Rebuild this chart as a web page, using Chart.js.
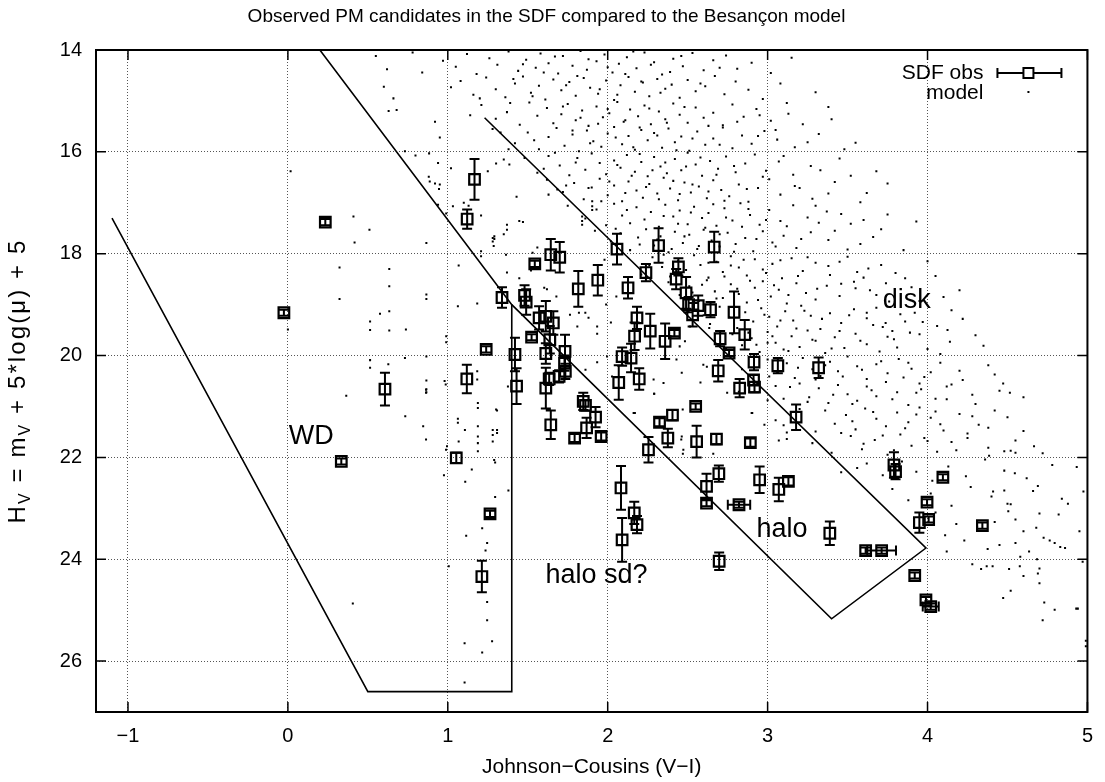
<!DOCTYPE html>
<html>
<head>
<meta charset="utf-8">
<script src="https://cdn.jsdelivr.net/npm/chart.js@4.4.1/dist/chart.umd.min.js"></script>
<style>
html, body { margin: 0; padding: 0; background: #fff; }
</style>
</head>
<body>
<canvas id="cmd" width="1105" height="782"></canvas>
<script>
const xTicks = [-1, 0, 1, 2, 3, 4, 5];
const yTicks = [14, 16, 18, 20, 22, 24, 26];

// SDF proper motion candidates: V-I, H_V and vertical error
const obsX = [-0.025,0.234,0.334,0.607,1.053,1.119,1.121,1.167,1.213,1.24,1.264,1.339,1.42,1.43,1.48,1.49,1.524,1.544,1.571,1.613,
  1.644,1.66,1.638,1.613,1.70,1.733,1.73,1.735,1.696,1.634,1.613,1.644,1.816,1.847,1.861,1.924,1.868,1.793,1.938,1.959,
  2.058,2.09,2.146,2.069,2.197,2.168,2.183,2.127,2.083,2.166,2.183,2.09,2.239,2.266,2.255,2.318,2.324,2.359,2.376,2.405,
  2.417,2.428,2.442,2.49,2.506,2.531,2.55,2.556,2.566,2.618,2.618,2.643,2.666,2.68,2.691,2.695,2.697,2.703,2.759,2.79,
  2.821,2.825,2.857,2.892,2.912,2.918,2.915,2.95,3.064,3.07,3.13,3.178,3.319,3.389,3.613,3.713,3.79,3.80,3.92,3.949,
  3.997,4.007,3.99,4.02,4.096,4.343];
const obsY = [19.16,17.38,22.08,20.66,22.01,20.46,17.32,16.54,24.34,19.88,23.11,18.86,19.98,20.60,18.82,18.95,19.64,18.20,19.26,19.23,
  18.02,19.36,19.69,19.96,18.07,19.92,20.15,20.31,20.41,20.46,20.64,21.36,18.69,20.90,20.98,21.21,21.42,21.62,18.52,21.59,
  17.91,20.02,20.05,20.53,20.46,19.62,19.26,18.67,22.60,23.09,23.32,23.62,18.37,19.52,21.85,17.84,21.31,19.72,21.62,21.17,
  19.56,18.50,18.26,18.77,19.00,19.20,21.00,21.69,19.02,22.57,22.90,19.10,17.87,21.64,20.30,22.32,24.04,19.67,19.95,19.15,
  22.93,20.64,19.59,21.71,20.48,20.62,20.13,22.44,20.20,22.63,22.47,21.21,20.24,23.49,23.83,23.83,22.15,22.28,24.32,23.28,
  22.88,23.22,24.80,24.93,22.39,23.34];
const obsYErr = [0.06,0.06,0.06,0.32,0.10,0.28,0.19,0.40,0.31,0.06,0.06,0.20,0.33,0.35,0.20,0.25,0.06,0.06,0.23,0.30,
  0.31,0.23,0.27,0.20,0.30,0.33,0.15,0.15,0.12,0.12,0.40,0.28,0.35,0.17,0.10,0.20,0.20,0.08,0.30,0.08,
  0.30,0.18,0.28,0.34,0.21,0.27,0.22,0.21,0.43,0.22,0.17,0.43,0.17,0.34,0.25,0.34,0.08,0.35,0.18,0.10,
  0.06,0.20,0.17,0.31,0.15,0.23,0.06,0.31,0.20,0.25,0.06,0.15,0.30,0.10,0.21,0.16,0.17,0.15,0.06,0.41,
  0.06,0.18,0.29,0.08,0.10,0.10,0.16,0.26,0.15,0.23,0.08,0.25,0.20,0.23,0.06,0.06,0.25,0.15,0.06,0.20,
  0.06,0.06,0.06,0.06,0.06,0.06];
// the few candidates that also carry a colour error bar
const hErrX = [2.821, 3.713, 4.02];
const hErrY = [22.93, 23.83, 24.93];
const hErr = [0.07, 0.09, 0.05];

// Besancon model stars, disk sequence
const modelDisk = [
  [0.55,14.12],[0.62,14.38],[0.78,14.05],[0.84,14.44],[0.97,14.21],[1.05,14.33],[1.12,14.08],[1.18,14.47],[1.26,14.16],[1.31,14.29],
  [1.38,14.03],[1.44,14.41],[1.49,14.19],[1.55,14.35],[1.58,14.07],[1.63,14.26],[1.69,14.46],[1.72,14.12],[1.78,14.31],[1.83,14.02],
  [1.87,14.39],[1.93,14.22],[1.98,14.09],[2.03,14.44],[2.07,14.27],[2.12,14.14],[2.18,14.36],[2.23,14.05],[2.29,14.24],[2.34,14.48],
  [2.41,14.17],[2.47,14.32],[2.53,14.06],[2.6,14.4],[2.66,14.2],[2.74,14.11],[2.81,14.37],[2.9,14.25],[3.02,14.45],[3.15,14.15],
  [0.6,14.72],[0.66,14.95],[1.08,14.61],[1.16,14.88],[1.24,14.54],[1.3,14.77],[1.36,14.93],[1.42,14.66],[1.47,14.52],[1.52,14.84],
  [1.57,14.7],[1.61,14.97],[1.66,14.58],[1.71,14.79],[1.76,14.63],[1.8,14.9],[1.85,14.55],[1.89,14.74],[1.94,14.86],[1.99,14.6],
  [2.04,14.98],[2.08,14.69],[2.13,14.53],[2.17,14.82],[2.22,14.64],[2.26,14.91],[2.31,14.57],[2.36,14.76],[2.4,14.68],[2.45,14.94],
  [2.5,14.59],[2.55,14.81],[2.61,14.71],[2.67,14.51],[2.73,14.87],[2.8,14.62],[2.88,14.78],[2.97,14.96],[3.08,14.66],[3.3,14.83],
  [0.63,15.2],[0.68,15.18],[0.92,15.41],[1.21,15.08],[1.3,15.35],[1.37,15.22],[1.45,15.47],[1.51,15.03],[1.56,15.29],[1.62,15.14],
  [1.66,15.44],[1.71,15.26],[1.75,15.06],[1.8,15.38],[1.84,15.19],[1.88,15.49],[1.93,15.11],[1.97,15.32],[2.01,15.24],[2.06,15.02],
  [2.1,15.41],[2.14,15.17],[2.19,15.3],[2.23,15.09],[2.27,15.46],[2.32,15.21],[2.36,15.36],[2.41,15.05],[2.45,15.27],[2.5,15.43],
  [2.55,15.13],[2.6,15.33],[2.66,15.23],[2.72,15.48],[2.78,15.07],[2.85,15.31],[2.93,15.16],[3.02,15.39],[3.13,15.25],[3.38,15.12],
  [0.95,15.72],[1.28,15.55],[1.42,15.83],[1.5,15.62],[1.57,15.95],[1.63,15.71],[1.68,15.53],[1.73,15.88],[1.78,15.66],[1.82,15.99],
  [1.87,15.58],[1.91,15.79],[1.96,15.9],[2.0,15.64],[2.04,15.51],[2.09,15.85],[2.13,15.69],[2.17,15.96],[2.21,15.57],[2.25,15.77],
  [2.29,15.63],[2.34,15.92],[2.38,15.54],[2.42,15.81],[2.46,15.7],[2.51,15.98],[2.56,15.6],[2.61,15.86],[2.66,15.74],[2.72,15.52],
  [2.78,15.93],[2.84,15.68],[2.9,15.84],[2.98,15.59],[3.06,15.76],[3.17,15.91],[3.32,15.65],[3.55,15.82],
  [1.02,16.32],[1.35,16.15],[1.56,16.41],[1.63,16.08],[1.7,16.27],[1.76,16.46],[1.81,16.12],[1.86,16.35],[1.9,16.03],[1.95,16.22],
  [1.99,16.44],[2.04,16.17],[2.08,16.31],[2.12,16.06],[2.17,16.39],[2.21,16.2],[2.25,16.48],[2.29,16.1],[2.33,16.29],[2.37,16.42],
  [2.42,16.14],[2.46,16.36],[2.5,16.02],[2.55,16.25],[2.59,16.47],[2.64,16.18],[2.69,16.33],[2.74,16.09],[2.8,16.4],[2.86,16.23],
  [2.92,16.05],[2.99,16.37],[3.07,16.19],[3.16,16.45],[3.27,16.28],[3.45,16.13],[3.68,16.38],
  [0.92,16.62],[1.43,16.88],[1.62,16.55],[1.72,16.79],[1.79,16.61],[1.85,16.93],[1.9,16.7],[1.95,16.53],[2.0,16.85],[2.04,16.66],
  [2.09,16.97],[2.13,16.58],[2.18,16.76],[2.22,16.9],[2.26,16.63],[2.31,16.82],[2.35,16.51],[2.39,16.72],[2.44,16.95],[2.48,16.6],
  [2.52,16.8],[2.57,16.68],[2.62,16.91],[2.66,16.56],[2.71,16.75],[2.76,16.87],[2.82,16.64],[2.88,16.98],[2.94,16.71],[3.01,16.54],
  [3.08,16.84],[3.17,16.67],[3.28,16.92],[3.42,16.59],[3.62,16.81],
  [0.99,17.21],[1.47,17.38],[1.75,17.06],[1.86,17.31],[1.93,17.13],[1.99,17.44],[2.04,17.02],[2.09,17.25],[2.14,17.4],[2.18,17.09],
  [2.23,17.33],[2.27,17.18],[2.32,17.47],[2.36,17.04],[2.41,17.27],[2.45,17.15],[2.5,17.42],[2.54,17.08],[2.59,17.3],[2.63,17.2],
  [2.68,17.45],[2.73,17.11],[2.78,17.35],[2.83,17.01],[2.89,17.24],[2.95,17.43],[3.01,17.14],[3.08,17.36],[3.16,17.05],[3.25,17.29],
  [3.37,17.17],[3.52,17.41],[3.75,17.23],
  [1.35,17.62],[1.56,17.88],[1.92,17.55],[2.02,17.76],[2.08,17.6],[2.14,17.93],[2.19,17.68],[2.24,17.52],[2.29,17.84],[2.33,17.66],
  [2.38,17.97],[2.42,17.57],[2.47,17.79],[2.51,17.63],[2.56,17.91],[2.6,17.53],[2.65,17.74],[2.7,17.86],[2.75,17.59],[2.8,17.81],
  [2.86,17.69],[2.91,17.95],[2.97,17.56],[3.03,17.78],[3.1,17.65],[3.18,17.89],[3.27,17.58],[3.38,17.73],[3.5,17.92],[3.66,17.67],
  [1.52,18.33],[1.98,18.12],[2.21,18.41],[2.28,18.07],[2.34,18.26],[2.39,18.45],[2.44,18.14],[2.49,18.32],[2.54,18.03],[2.58,18.22],
  [2.63,18.47],[2.68,18.16],[2.72,18.36],[2.77,18.05],[2.82,18.27],[2.87,18.43],[2.92,18.11],[2.97,18.31],[3.03,18.2],[3.09,18.48],
  [3.15,18.09],[3.22,18.34],[3.3,18.18],[3.39,18.42],[3.5,18.06],[3.63,18.29],[3.8,18.38],[4.0,18.15],
  [1.62,18.7],[2.38,18.56],[2.45,18.81],[2.51,18.64],[2.57,18.93],[2.62,18.52],[2.67,18.74],[2.72,18.87],[2.77,18.6],[2.82,18.79],
  [2.87,18.96],[2.92,18.67],[2.97,18.54],[3.02,18.84],[3.07,18.71],[3.12,18.98],[3.18,18.58],[3.24,18.77],[3.3,18.9],[3.37,18.63],
  [3.45,18.83],[3.54,18.55],[3.64,18.72],[3.76,18.94],[3.9,18.66],[4.1,18.85],
  [2.02,19.35],[2.57,19.12],[2.64,19.38],[2.7,19.04],[2.76,19.25],[2.81,19.46],[2.86,19.15],[2.91,19.33],[2.96,19.07],[3.01,19.24],
  [3.06,19.43],[3.11,19.13],[3.16,19.31],[3.21,19.02],[3.27,19.22],[3.33,19.48],[3.39,19.17],[3.46,19.36],[3.54,19.09],[3.62,19.27],
  [3.72,19.44],[3.83,19.19],[3.97,19.34],[4.15,19.11],
  [2.45,19.82],[2.78,19.58],[2.84,19.8],[2.9,19.66],[2.95,19.93],[3.0,19.54],[3.05,19.75],[3.1,19.88],[3.15,19.62],[3.2,19.83],
  [3.25,19.51],[3.3,19.71],[3.36,19.95],[3.42,19.64],[3.48,19.85],[3.55,19.57],[3.62,19.78],[3.7,19.92],[3.79,19.68],[3.89,19.55],
  [4.0,19.87],[4.14,19.73],[4.3,19.6],
  [2.62,20.22],[3.0,20.08],[3.06,20.33],[3.12,20.15],[3.17,20.44],[3.22,20.05],[3.28,20.27],[3.33,20.4],[3.39,20.12],[3.44,20.31],
  [3.5,20.02],[3.56,20.21],[3.62,20.46],[3.68,20.17],[3.75,20.35],[3.82,20.07],[3.9,20.26],[3.98,20.42],[4.08,20.14],[4.2,20.3],[4.38,20.19],
  [2.82,20.71],[3.2,20.55],[3.26,20.82],[3.32,20.64],[3.38,20.93],[3.44,20.58],[3.5,20.76],[3.56,20.89],[3.62,20.61],[3.68,20.8],
  [3.74,20.52],[3.81,20.72],[3.88,20.97],[3.96,20.66],[4.05,20.85],[4.15,20.57],[4.28,20.77],[4.45,20.69],
  [3.05,21.27],[3.36,21.08],[3.42,21.34],[3.49,21.17],[3.55,21.45],[3.61,21.04],[3.68,21.24],[3.74,21.39],[3.81,21.12],[3.88,21.31],
  [3.95,21.02],[4.02,21.22],[4.1,21.47],[4.2,21.15],[4.32,21.36],[4.5,21.21],
  [3.28,21.72],[3.52,21.58],[3.59,21.84],[3.67,21.66],[3.75,21.95],[3.83,21.55],[3.9,21.77],[3.98,21.62],[4.06,21.89],[4.15,21.7],
  [4.25,21.53],[4.38,21.81],[4.55,21.67],
  [3.62,22.12],[3.72,22.35],[3.84,22.08],[3.93,22.28],[4.03,22.46],[4.13,22.18],[4.24,22.37],[4.36,22.04],[4.48,22.26],[4.62,22.41],[4.78,22.15],
  [3.78,22.62],[3.88,22.84],[4.02,22.71],[4.15,22.95],[4.27,22.58],[4.4,22.77],[4.52,22.92],[4.66,22.66],[4.84,22.81],
  [4.05,23.08],[4.18,23.31],[4.31,23.36],[4.42,23.27],[4.55,23.22],[4.68,23.38],[4.82,23.12],[4.95,23.45],
  [4.12,23.85],[4.28,24.1],[4.45,23.72],[4.58,23.95],[4.7,24.18],[4.86,23.78],[4.6,24.33],[4.97,24.05],
  [4.52,24.62],[4.73,24.85],[4.93,24.97],[4.99,25.6],[4.72,25.2]
];

// Besancon model stars, densest part of the disk sequence
const modelCore = [
  [1.41,14.57],[1.47,14.28],[1.53,14.91],[1.6,14.44],[1.67,14.13],[1.74,14.69],[1.81,14.51],[1.88,14.18],[1.95,14.77],[2.0,14.34],
  [2.06,14.88],[2.11,14.47],[2.16,14.03],[2.21,14.62],[2.27,14.29],[2.33,14.84],[2.39,14.43],[2.46,14.12],[2.58,14.66],[2.7,14.35],
  [1.72,15.11],[1.78,15.58],[1.83,15.33],[1.89,15.83],[1.94,15.45],[2.0,15.16],[2.05,15.72],[2.11,15.38],[2.16,15.91],[2.2,15.52],
  [2.26,15.15],[2.31,15.68],[2.37,15.43],[2.43,15.97],[2.48,15.12],[2.53,15.74],[2.63,15.49],[2.7,15.86],[2.81,15.41],[2.94,15.69],
  [2.01,16.58],[2.06,16.26],[2.11,16.81],[2.15,16.47],[2.2,16.04],[2.24,16.69],[2.28,16.36],[2.32,16.93],[2.36,16.21],[2.41,16.57],
  [2.45,16.83],[2.49,16.29],[2.53,16.64],[2.58,16.11],[2.63,16.78],[2.68,16.45],[2.73,16.96],[2.79,16.28],[2.87,16.73],[2.97,16.49],
  [2.31,17.72],[2.35,17.26],[2.4,17.91],[2.44,17.41],[2.48,17.66],[2.52,17.19],[2.57,17.85],[2.61,17.49],[2.66,17.03],[2.7,17.62],
  [2.74,17.29],[2.79,17.96],[2.84,17.47],[2.88,17.12],[2.93,17.71],[2.99,17.34],[3.05,17.86],[3.12,17.46],[3.21,17.71],[3.32,17.39],
  [2.59,18.61],[2.63,18.18],[2.68,18.88],[2.73,18.45],[2.77,18.23],[2.81,18.69],[2.85,18.12],[2.89,18.53],[2.94,18.91],[2.99,18.38],
  [3.04,18.62],[3.08,18.13],[3.13,18.81],[3.19,18.44],[3.25,18.07],[3.31,18.69],[3.38,18.24],[3.46,18.59],[3.56,18.36],[3.68,18.81],
  [2.88,19.55],[2.93,19.79],[2.98,19.2],[3.03,19.62],[3.08,19.31],[3.13,19.91],[3.18,19.47],[3.23,19.12],[3.28,19.69],[3.34,19.28],
  [3.4,19.86],[3.45,19.52],[3.51,19.21],[3.58,19.71],[3.66,19.4],[3.75,19.63],[3.86,19.33],[3.95,19.58],
  [3.14,20.62],[3.19,20.24],[3.25,20.91],[3.3,20.47],[3.36,20.19],[3.41,20.77],[3.47,20.41],[3.53,20.95],[3.59,20.28],[3.65,20.68],
  [3.71,20.11],[3.78,20.86],[3.85,20.43],[3.93,20.73],[4.02,20.33],[4.12,20.61],
  [3.46,21.52],[3.53,21.29],[3.6,21.73],[3.66,21.11],[3.72,21.57],[3.79,21.86],[3.86,21.43],[3.93,21.16],[4.0,21.68],[4.08,21.35],
  [4.18,21.86],[4.28,21.19],
  [2.95,15.28],[3.05,15.57],[3.12,15.04],[3.22,15.46],[3.25,15.81],[3.4,15.36],[3.48,15.95],
  [3.1,16.08],[3.2,16.71],[3.33,16.36],[3.38,16.82],[3.52,16.47],[3.58,16.99],[3.75,16.62],
  [3.3,17.06],[3.42,17.55],[3.46,17.22],[3.58,17.81],[3.6,17.34],[3.71,17.52],[3.85,17.93],[3.93,17.37],
  [3.45,18.16],[3.55,18.68],[3.6,18.47],[3.71,18.22],[3.74,18.58],[3.86,18.48],[3.95,18.93],[4.05,18.44],[4.2,18.72],
  [3.68,19.06],[3.78,19.52],[3.81,19.84],[3.92,19.16],[4.06,19.42],[4.08,19.97],[4.22,19.28],[4.35,19.81],
  [3.88,20.14],[3.95,20.55],[4.12,20.86],[4.22,20.48],[4.3,20.95],[4.42,20.37],[4.6,20.82],
  [4.05,21.1],[4.25,21.62],[4.38,21.42],[4.42,21.08],[4.6,21.48],[4.72,21.92],
  [1.02,14.73],[1.14,15.28],[1.2,14.95],[1.33,15.62],[1.39,15.04],[1.48,16.12],[1.54,15.77],[1.6,16.33],[1.67,16.02],[1.74,16.66],
  [1.8,16.21],[1.88,16.71],[1.96,16.97],[2.05,17.51],[2.12,17.14],[2.2,17.82],[2.26,18.23],[2.35,18.02],[2.42,18.39],[2.53,18.76],
  [2.6,19.21],[2.68,19.52],[2.74,19.86],[2.84,20.27],[2.93,20.53],[3.0,20.88],[3.1,21.37],[3.2,21.05],[3.3,21.49],[3.4,21.91]
];

// Besancon model stars, sparse halo and white dwarf population
const modelHalo = [
  [0.365,20.79],[0.734,21.19],[0.864,20.67],[0.864,20.73],[0.846,21.39],[0.864,21.65],[0.987,20.57],[1.063,21.24],[1.063,21.32],[1.107,21.46],
  [1.068,21.69],[1.188,20.93],[1.188,21.03],[1.188,21.39],[1.188,21.59],[1.188,21.72],[1.188,21.88],[1.308,21.08],[1.308,21.46],[1.308,21.52],
  [1.281,21.69],[1.296,22.1],[1.15,22.24],[0.976,22.35],[1.109,22.48],[1.379,22.65],[1.296,22.78],[1.215,23.39],[1.115,23.54],[1.246,23.68],
  [1.236,23.83],[1.006,24.14],[1.246,24.84],[1.246,25.2],[0.406,24.87],[1.376,20.61],[0.995,21.78],[0.989,21.85],[1.105,25.65],[1.277,25.61],
  [1.215,25.83],[1.105,26.42],[0.017,16.38],[0.41,17.27],[0.51,17.53],[0.417,17.78],[0.866,17.79],[0.323,18.27],[0.634,18.3],[0.634,18.64],
  [0.323,18.89],[0.866,18.8],[0.866,18.89],[0.576,19.18],[0.634,19.13],[0.514,19.33],[0.514,19.5],[0.634,19.51],[0.738,19.49],[0.0,19.49],
  [0.514,20.09],[0.514,20.24],[0.628,20.17],[0.732,20.05],[0.866,20.02],[0.866,20.49],[0.866,20.66],[0.866,20.72],
  [0.939,16.22],[0.881,16.49],[0.887,16.58],[0.95,16.64],[0.945,16.73],[0.939,17.04],[0.798,16.07],[0.732,15.99],[0.883,16.03],[1.032,17.07],
  [1.1,17.0],[1.13,17.06],[1.208,17.25],[1.37,17.43],[1.37,17.53],[1.447,17.36],[1.291,17.66],[1.291,17.71],[1.287,17.85],[1.208,17.95],
  [1.208,18.05],[1.068,18.23],[1.184,18.98],[1.063,19.03],[1.37,18.37],[1.364,18.02],[1.447,18.48],[1.53,17.98],[1.38,15.95],[1.302,16.23],
  [1.385,16.25],[1.25,16.38],[0.98,20.5],[0.99,19.62],[0.99,19.74],[1.184,20.31],[1.184,20.47],
  [1.903,16.97],[1.903,17.07],[1.903,17.14],[1.84,17.27],[1.84,17.36],[1.84,17.43],[1.63,16.84],[1.685,16.74],[1.281,17.69],[1.281,17.76],
  [1.603,18.67],[1.679,18.84],[1.82,19.16],[1.86,19.16],[1.88,19.26],[1.934,19.43],[1.934,19.57],[1.99,19.0],[2.054,18.84],[1.996,20.02],
  [2.027,20.41],[1.934,20.13],[1.861,20.28],[1.764,19.2],[1.81,19.43],[1.302,21.06],[1.281,21.46],[1.281,21.56],[1.29,22.05],[2.287,20.47],
  [2.291,20.75],[2.463,20.34],[2.469,21.06],[2.598,20.18],[2.747,20.73],[2.904,21.13],[3.01,20.41],[3.0,19.75],[2.162,21.13],[2.349,20.54],
  [2.483,19.72],[2.515,19.43],[2.635,19.46],[2.43,20.08],[2.58,20.53],[2.463,21.59],[2.473,21.85],[2.66,21.93],[3.12,21.51],[2.98,21.36],
  [4.125,19.5],[3.738,19.36],[3.62,19.16],[4.473,20.55],[4.515,20.73],[4.666,21.78],[4.933,22.19],[4.975,22.67],[4.878,22.91],[4.69,22.56],
  [4.546,22.31],[4.48,22.65],[4.41,22.67],[4.505,23.06],[4.6,23.45],[4.55,23.68],[4.635,23.85],[4.726,23.58],[4.764,23.63],[4.795,23.68],
  [4.83,23.76],[4.685,24.0],[4.69,24.28],[4.7,24.47],[4.37,24.14],[4.335,24.19],[4.407,24.14],[4.51,24.19],[4.577,24.14],[4.473,24.76],
  [4.376,23.8],[4.23,23.63],[4.11,23.53],[4.7,23.1],[4.5,22.91],[4.55,21.91],[4.52,21.87],[4.48,21.88],[4.385,21.97],[4.99,25.71],
  [4.795,24.99],[4.94,24.97],
  [2.17,21.13],[2.29,20.75],[2.46,21.65],[2.47,21.93],[2.9,21.13],[3.07,21.67],[3.12,21.64],[3.46,22.29],[3.56,22.21],[3.05,20.6],[3.1,20.85]
];

// selection boundaries
const wdLineX = [-1.1, 0.5, 1.4, 1.4];
const wdLineY = [17.3, 26.6, 26.6, 19.0];
const haloLineX = [0.2, 1.4, 3.4, 3.99, 1.23];
const haloLineY = [14.0, 19.0, 25.17, 23.78, 15.33];

const noteText = ['WD', 'halo sd?', 'halo', 'disk'];
const noteX = [0.146, 1.93, 3.09, 3.87];
const noteY = [21.59, 24.32, 23.42, 18.92];

const FONT = "'Liberation Sans', Arial, Helvetica, sans-serif";
Chart.defaults.font.family = FONT;
Chart.defaults.color = '#000';

// error bars, frame with inward ticks, annotations, legend, y title
const extras = {
  id: 'extras',
  afterDatasetsDraw(chart) {
    const {ctx, chartArea: a, scales: {x, y}} = chart;
    ctx.save();
    ctx.strokeStyle = '#000';
    ctx.lineWidth = 2;
    ctx.beginPath();
    obsX.forEach((v, i) => {
      const px = x.getPixelForValue(v);
      const t = y.getPixelForValue(obsY[i] - obsYErr[i]);
      const b = y.getPixelForValue(obsY[i] + obsYErr[i]);
      ctx.moveTo(px, t); ctx.lineTo(px, b);
      ctx.moveTo(px - 5, t); ctx.lineTo(px + 5, t);
      ctx.moveTo(px - 5, b); ctx.lineTo(px + 5, b);
    });
    hErrX.forEach((v, i) => {
      const py = y.getPixelForValue(hErrY[i]);
      const l = x.getPixelForValue(v - hErr[i]);
      const r = x.getPixelForValue(v + hErr[i]);
      ctx.moveTo(l, py); ctx.lineTo(r, py);
      ctx.moveTo(l, py - 5); ctx.lineTo(l, py + 5);
      ctx.moveTo(r, py - 5); ctx.lineTo(r, py + 5);
    });
    ctx.stroke();

    // frame
    ctx.lineWidth = 2;
    ctx.strokeRect(a.left, a.top, a.right - a.left, a.bottom - a.top);
    ctx.lineWidth = 1.5;
    ctx.beginPath();
    xTicks.forEach(v => {
      const p = x.getPixelForValue(v);
      ctx.moveTo(p, a.bottom); ctx.lineTo(p, a.bottom - 10);
      ctx.moveTo(p, a.top); ctx.lineTo(p, a.top + 10);
    });
    yTicks.forEach(v => {
      const p = y.getPixelForValue(v);
      ctx.moveTo(a.left, p); ctx.lineTo(a.left + 10, p);
      ctx.moveTo(a.right, p); ctx.lineTo(a.right - 10, p);
    });
    ctx.stroke();

    // region labels
    ctx.fillStyle = '#000';
    ctx.font = '27px ' + FONT;
    ctx.textAlign = 'center';
    ctx.textBaseline = 'middle';
    noteText.forEach((s, i) => ctx.fillText(s, x.getPixelForValue(noteX[i]), y.getPixelForValue(noteY[i])));

    // legend
    ctx.font = '21px ' + FONT;
    ctx.textAlign = 'right';
    ctx.fillText('SDF obs', a.right - 104, a.top + 23);
    ctx.fillText('model', a.right - 104, a.top + 43);
    const ly = a.top + 23, lc = a.right - 59;
    ctx.lineWidth = 2;
    ctx.beginPath();
    ctx.moveTo(a.right - 90, ly); ctx.lineTo(a.right - 26, ly);
    ctx.moveTo(a.right - 90, ly - 5); ctx.lineTo(a.right - 90, ly + 5);
    ctx.moveTo(a.right - 26, ly - 5); ctx.lineTo(a.right - 26, ly + 5);
    ctx.stroke();
    ctx.fillStyle = '#fff';
    ctx.fillRect(lc - 5, ly - 5, 10, 10);
    ctx.strokeRect(lc - 5, ly - 5, 10, 10);
    ctx.fillStyle = '#000';
    ctx.fillRect(lc - 1, a.top + 41, 2, 2);

    // y axis title with subscripts
    const parts = [['H', 0], ['V', 1], [' = m', 0], ['V', 1], [' + 5*log(\u03bc) + 5', 0]];
    const big = '24px ' + FONT, small = '16px ' + FONT, gap = 2.1;
    const chars = [];
    parts.forEach(p => { for (const c of p[0]) chars.push([c, p[1]]); });
    let total = 0;
    chars.forEach(c => { ctx.font = c[1] ? small : big; total += ctx.measureText(c[0]).width + gap; });
    ctx.translate(17, (a.top + a.bottom) / 2);
    ctx.rotate(-Math.PI / 2);
    ctx.textAlign = 'left';
    ctx.textBaseline = 'alphabetic';
    let cx = -total / 2;
    chars.forEach(c => {
      ctx.font = c[1] ? small : big;
      ctx.fillText(c[0], cx, c[1] ? 13 : 8);
      cx += ctx.measureText(c[0]).width + gap;
    });
    ctx.restore();
  }
};

new Chart(document.getElementById('cmd'), {
  type: 'scatter',
  data: {
    datasets: [
      {
        label: 'SDF obs',
        data: obsX.map((v, i) => ({x: v, y: obsY[i]})),
        pointStyle: 'rect',
        pointRadius: 7.5,
        borderWidth: 2.2,
        borderColor: '#000',
        backgroundColor: 'rgba(0,0,0,0)'
      },
      {
        label: 'wd',
        data: wdLineX.map((v, i) => ({x: v, y: wdLineY[i]})),
        showLine: true,
        pointRadius: 0,
        borderColor: '#000',
        borderWidth: 1.6
      },
      {
        label: 'halo',
        data: haloLineX.map((v, i) => ({x: v, y: haloLineY[i]})),
        showLine: true,
        pointRadius: 0,
        borderColor: '#000',
        borderWidth: 1.6
      },
      {
        label: 'model',
        data: modelDisk.concat(modelCore, modelHalo).map(p => ({x: p[0], y: p[1]})),
        pointStyle: 'rect',
        pointRadius: 1.42,
        borderWidth: 0,
        backgroundColor: '#000'
      }
    ]
  },
  options: {
    responsive: false,
    animation: false,
    devicePixelRatio: 1,
    layout: {padding: {left: 0, right: 12, top: 0, bottom: 0}},
    plugins: {
      legend: {display: false},
      tooltip: {enabled: false},
      title: {
        display: true,
        text: 'Observed PM candidates in the SDF compared to the Besan\u00e7on model',
        font: {size: 19, weight: 'normal'},
        color: '#000',
        padding: {top: 5, bottom: 22.2}
      }
    },
    scales: {
      x: {
        type: 'linear',
        min: -1.2,
        max: 5,
        afterBuildTicks: s => { s.ticks = xTicks.map(v => ({value: v})); },
        afterFit: s => { s.height = 70; },
        ticks: {
          font: {size: 20},
          color: '#000',
          padding: 12,
          callback: v => String(v).replace('-', '\u2212')
        },
        grid: {color: '#555', lineWidth: 1, drawTicks: false},
        border: {display: false, dash: [1, 2]},
        title: {
          display: true,
          text: 'Johnson\u2212Cousins (V\u2212I)',
          font: {size: 21},
          color: '#000',
          padding: {top: 0, bottom: 2}
        }
      },
      y: {
        type: 'linear',
        reverse: true,
        min: 14,
        max: 27,
        afterBuildTicks: s => { s.ticks = yTicks.map(v => ({value: v})); },
        afterFit: s => { s.width = 96; },
        ticks: {font: {size: 20}, color: '#000', padding: 14},
        grid: {color: '#555', lineWidth: 1, drawTicks: false},
        border: {display: false, dash: [1, 2]}
      }
    }
  },
  plugins: [extras]
});
</script>
</body>
</html>
